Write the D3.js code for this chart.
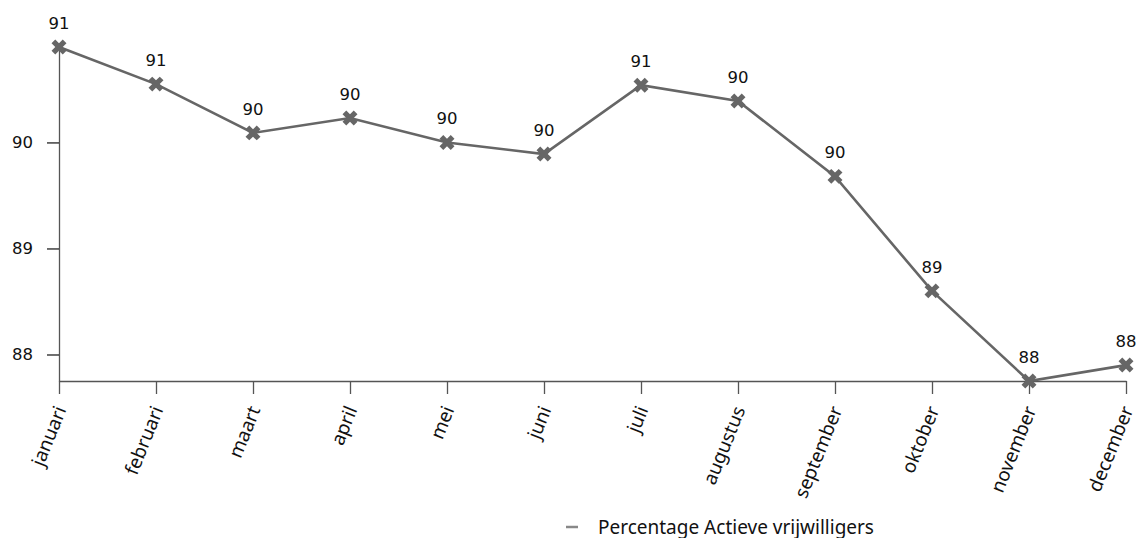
<!DOCTYPE html>
<html>
<head>
<meta charset="utf-8">
<script src="https://cdn.jsdelivr.net/npm/d3@7"></script>
<style>
  body { margin: 0; background: #fff; }
  svg { display: block; }
</style>
</head>
<body>
<svg id="chart"></svg>
<script>
// data
const months = ["januari", "februari", "maart", "april", "mei", "juni", "juli",
  "augustus", "september", "oktober", "november", "december"];
const percentages = [90.90, 90.55, 90.09, 90.23, 90.0, 89.89, 90.54, 90.39,
  89.68, 88.60, 87.75, 87.90];
const yTicks = [88, 89, 90];
const seriesName = "Percentage Actieve vrijwilligers";

const W = 1137, H = 538;
const margin = { top: 47, right: 11, bottom: 157, left: 59 };
const width = W - margin.left - margin.right,
  height = H - margin.top - margin.bottom;

const svg = d3.select("#chart").attr("width", W).attr("height", H);
const g = svg.append("g")
  .attr("transform", "translate(" + margin.left + "," + margin.top + ")");

const x = d3.scalePoint().domain(months).range([0, width]);
const y = d3.scaleLinear()
  .domain([d3.min(percentages), d3.max(percentages)])
  .range([height, 0]);

const axisColor = "#555";

// y axis
const yAxis = g.append("g").call(d3.axisLeft(y).tickValues(yTicks).tickSize(12)
  .tickSizeOuter(0).tickPadding(14).tickFormat(d3.format("d")));
yAxis.select(".domain").attr("stroke", axisColor).attr("stroke-width", 1.3);
yAxis.selectAll(".tick line").attr("stroke", "#222").attr("stroke-width", 1.3);
yAxis.selectAll("text").style("font-family", "DejaVu Sans").style("font-size", "16.5px").attr("fill", "#111");

// x axis
const xAxis = g.append("g")
  .attr("transform", "translate(0," + height + ")")
  .call(d3.axisBottom(x).tickSize(13).tickSizeOuter(0));
xAxis.select(".domain").attr("stroke", axisColor).attr("stroke-width", 1.3);
xAxis.selectAll(".tick line").attr("stroke", axisColor).attr("stroke-width", 1.3);
xAxis.selectAll("text")
  .style("font-family", "Noto Sans")
  .style("font-size", "19px")
  .attr("fill", "#111")
  .attr("text-anchor", "end")
  .attr("dy", "0.35em")
  .attr("transform", "translate(1,26)rotate(-68)")
  .attr("x", 0).attr("y", 0);

// line
const lineColor = "#666";
g.append("path")
  .datum(percentages)
  .attr("fill", "none")
  .attr("stroke", lineColor)
  .attr("stroke-width", 2.6)
  .attr("d", d3.line().x((d, i) => x(months[i])).y(d => y(d)));

// markers
const sym = d3.symbol().type(d3.symbolCross).size(140);
g.selectAll(".marker")
  .data(percentages)
  .enter()
  .append("path")
  .attr("d", sym)
  .attr("fill", lineColor)
  .attr("transform", (d, i) => "translate(" + x(months[i]) + "," + y(d) + ")rotate(45)");

// value labels
g.selectAll(".lbl")
  .data(percentages)
  .enter()
  .append("text")
  .attr("x", (d, i) => x(months[i]))
  .attr("y", d => y(d) - 18)
  .attr("text-anchor", "middle")
  .style("font-family", "DejaVu Sans")
  .style("font-size", "16.5px")
  .attr("fill", "#111")
  .text(d => Math.round(d));

// legend
const lg = svg.append("g").attr("transform", "translate(566,527)");
lg.append("line").attr("x1", 0).attr("x2", 12).attr("y1", 0).attr("y2", 0)
  .attr("stroke", "#888").attr("stroke-width", 2.5);
lg.append("text")
  .attr("x", 32).attr("y", 7)
  .style("font-family", "Noto Sans")
  .style("font-size", "19px")
  .attr("fill", "#111")
  .text(seriesName);
</script>
</body>
</html>
